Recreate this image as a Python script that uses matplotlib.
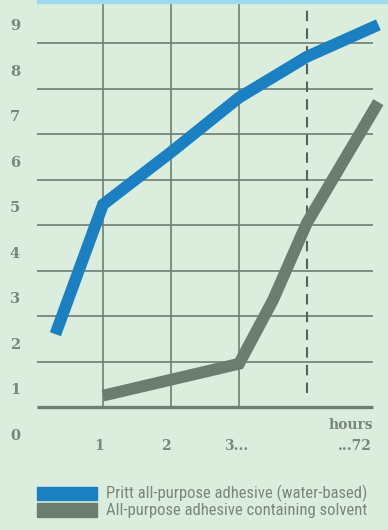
import matplotlib
matplotlib.use("Agg")
import matplotlib.pyplot as plt
from matplotlib.patches import Rectangle
from matplotlib import font_manager as fm

# ---- data ----
water_x = [0.3, 1, 2, 3, 4, 5.05]
water_y = [2.1, 4.95, 6.1, 7.3, 8.2, 8.9]
solvent_x = [1, 2, 3, 3.5, 4, 5.05]
solvent_y = [0.75, 1.1, 1.45, 2.85, 4.55, 7.2]
y_labels = ["0", "1", "2", "3", "4", "5", "6", "7", "8", "9"]
x_labels = ["1", "2", "3...", "...72"]
legend_labels = ["Pritt all-purpose adhesive (water-based)",
                 "All-purpose adhesive containing solvent"]

BG = "#dbeedd"
BLUE = "#1b80c2"
GRAY = "#6c7d70"
GRID = "#7d8e80"
TXT = "#7b857c"

names = {f.name for f in fm.fontManager.ttflist}
cond = None
for cand in ["Liberation Sans Narrow", "Roboto Condensed", "Open Sans Condensed",
             "DejaVu Sans Condensed", "Noto Sans Condensed", "Liberation Sans"]:
    if cand in names:
        cond = cand
        break
if cond is None:
    cond = "DejaVu Sans"

W, H = 388, 530
fig = plt.figure(figsize=(W / 100, H / 100), dpi=100, facecolor=BG)

ax_l, ax_r = 35, 375
ax_top, ax_bot = 0, 450
ax = fig.add_axes([ax_l / W, 1 - ax_bot / H, (ax_r - ax_l) / W, (ax_bot - ax_top) / H])
ax.set_facecolor(BG)
ax.set_xlim(0, 5)
ypx = 45.5
ax.set_ylim(0.5 - (ax_bot - 407) / ypx, 0.5 + 407 / ypx)
for s in ax.spines.values():
    s.set_visible(False)
ax.set_xticks([])
ax.set_yticks([])

# y labels
ytr = ax.get_yaxis_transform()
for i, lab in enumerate(y_labels):
    ax.text(-20 / (ax_r - ax_l), i - 0.13, lab, transform=ytr, ha="center", va="center",
            family="DejaVu Serif", fontweight="bold", fontsize=10.5, color=TXT,
            clip_on=False)

top = ax.get_ylim()[1]
for v in [1.5, 2.5, 3.5, 4.5, 5.5, 6.5, 7.5, 8.5]:
    ax.hlines(v, 0.03, 4.97, color=GRID, lw=1.4, zorder=1)
ax.hlines(0.5, 0.03, 4.97, color="#6f8072", lw=2.4, zorder=1)
for xv in [1, 2, 3]:
    ax.vlines(xv, 0.5, top, color="#6f8072", lw=1.2, zorder=1)
ax.vlines(4, 0.8, top, color="#556458", lw=1.5, linestyles=(0, (5, 3.5)), zorder=1)

ax.plot(water_x, water_y, color=BLUE, lw=8.5, solid_capstyle="butt",
        solid_joinstyle="miter", clip_on=False, zorder=3)
ax.plot(solvent_x, solvent_y, color=GRAY, lw=8.5, solid_capstyle="butt",
        solid_joinstyle="miter", clip_on=False, zorder=3)

xl_font = dict(family="DejaVu Serif", fontweight="bold", fontsize=10, color=TXT, va="center")
ax.text(0.95, -0.35, x_labels[0], ha="center", **xl_font)
ax.text(1.93, -0.35, x_labels[1], ha="center", **xl_font)
ax.text(2.78, -0.35, x_labels[2], ha="left", **xl_font)
ax.text(4.95, -0.35, x_labels[3], ha="right", **xl_font)
ax.text(4.97, 0.1, "hours", ha="right", **xl_font)

fig.patches.append(Rectangle((37 / W, 1 - 3 / H), 1, 3 / H, transform=fig.transFigure,
                             color="#9fd9ec", zorder=0))

fig.patches.append(Rectangle((37 / W, 1 - 500 / H), 60 / W, 13 / H,
                             transform=fig.transFigure, color=BLUE))
fig.patches.append(Rectangle((37 / W, 1 - 517 / H), 60 / W, 14 / H,
                             transform=fig.transFigure, color=GRAY))
leg_font = dict(family=[cond, "DejaVu Sans"], fontsize=11,
                color=TXT, va="center", ha="left")
t1 = fig.text(106 / W, 1 - 493 / H, legend_labels[0], **leg_font)
t2 = fig.text(106 / W, 1 - 511 / H, legend_labels[1], **leg_font)
# fit legend text width to the reference width, keeping lines apart
fig.canvas.draw()
r = fig.canvas.get_renderer()
w1 = t1.get_window_extent(r).width
fs = min(11 * 278 / w1, 12)
t1.set_fontsize(fs)
t2.set_fontsize(fs)

fig.savefig("out.png", dpi=100, facecolor=BG)
